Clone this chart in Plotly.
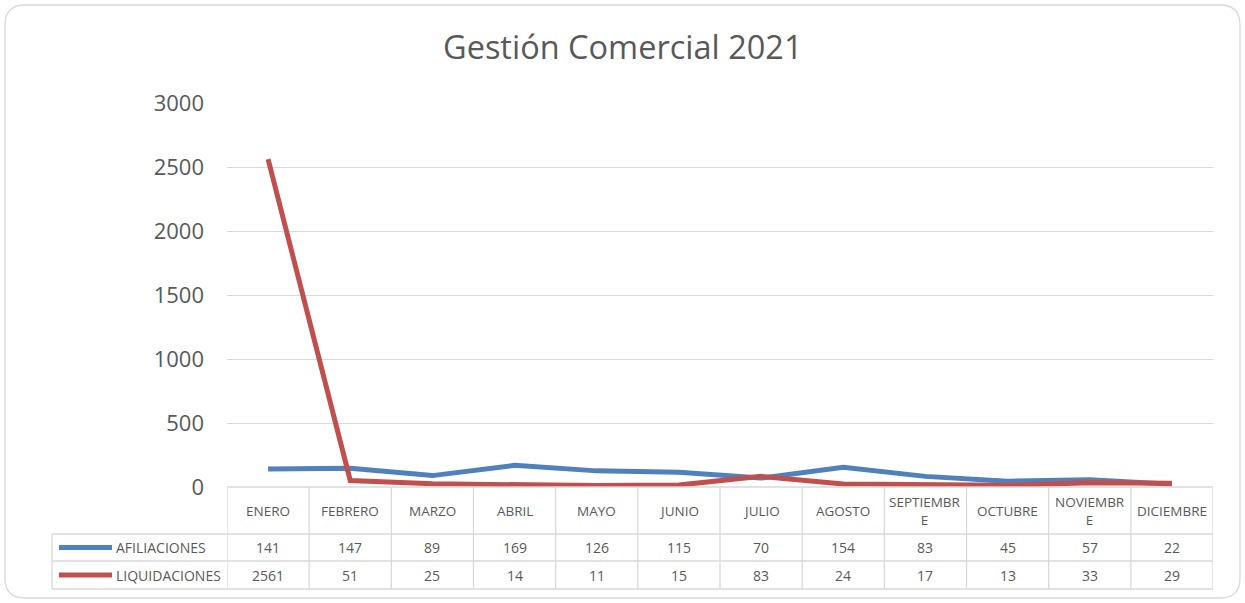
import plotly.graph_objects as go

W, H = 1245, 603

months = ["ENERO", "FEBRERO", "MARZO", "ABRIL", "MAYO", "JUNIO", "JULIO",
          "AGOSTO", "SEPTIEMBRE", "OCTUBRE", "NOVIEMBRE", "DICIEMBRE"]
month_labels = ["ENERO", "FEBRERO", "MARZO", "ABRIL", "MAYO", "JUNIO", "JULIO",
                "AGOSTO", "SEPTIEMBR<br>E", "OCTUBRE", "NOVIEMBR<br>E", "DICIEMBRE"]
afiliaciones = [141, 147, 89, 169, 126, 115, 70, 154, 83, 45, 57, 22]
liquidaciones = [2561, 51, 25, 14, 11, 15, 83, 24, 17, 13, 33, 29]
series_names = ["AFILIACIONES", "LIQUIDACIONES"]
series_colors = ["#4f81bd", "#c0504d"]
y_ticks = [0, 500, 1000, 1500, 2000, 2500, 3000]

FONT = "Open Sans"
TXT = "#595959"
GRID = "#d9d9d9"

def px(x):
    return x / W

def py(y):
    return 1 - y / H

x_left, x_right = 227, 1213
y_top, y_zero = 103, 487
row1_y0, row1_y1 = 534, 561
row2_y1 = 589
legend_x0 = 52

xs = list(range(len(months)))

fig = go.Figure()
for name, vals, col in zip(series_names, [afiliaciones, liquidaciones], series_colors):
    fig.add_trace(go.Scatter(x=xs, y=vals, mode="lines", name=name,
                             line=dict(color=col, width=5), showlegend=False,
                             hoverinfo="y+name"))

shapes = []
r = 20
bx0, by0, bx1, by1 = 5, 5, 1240, 598
path = (f"M {px(bx0 + r)} {py(by0)} L {px(bx1 - r)} {py(by0)} "
        f"Q {px(bx1)} {py(by0)} {px(bx1)} {py(by0 + r)} "
        f"L {px(bx1)} {py(by1 - r)} Q {px(bx1)} {py(by1)} {px(bx1 - r)} {py(by1)} "
        f"L {px(bx0 + r)} {py(by1)} Q {px(bx0)} {py(by1)} {px(bx0)} {py(by1 - r)} "
        f"L {px(bx0)} {py(by0 + r)} Q {px(bx0)} {py(by0)} {px(bx0 + r)} {py(by0)} Z")
shapes.append(dict(type="path", xref="paper", yref="paper", path=path,
                   line=dict(color=GRID, width=1.3), layer="below"))

for i in range(len(months) + 1):
    shapes.append(dict(type="line", xref="x", yref="paper", x0=i - 0.5, x1=i - 0.5,
                       y0=py(y_zero), y1=py(row2_y1), line=dict(color=GRID, width=1.3)))
shapes.append(dict(type="line", xref="paper", yref="paper", x0=px(x_left), x1=px(x_right),
                   y0=py(y_zero), y1=py(y_zero), line=dict(color=GRID, width=1.3)))
for yy in [row1_y0, row1_y1, row2_y1]:
    shapes.append(dict(type="line", xref="paper", yref="paper", x0=px(legend_x0), x1=px(x_right),
                       y0=py(yy), y1=py(yy), line=dict(color=GRID, width=1.3)))
shapes.append(dict(type="line", xref="paper", yref="paper", x0=px(legend_x0), x1=px(legend_x0),
                   y0=py(row1_y0), y1=py(row2_y1), line=dict(color=GRID, width=1.3)))

annotations = []
annotations.append(dict(text="Gestión Comercial 2021", xref="paper", yref="paper",
                        x=px(623), y=py(47), showarrow=False, yanchor="middle",
                        font=dict(family=FONT, size=32.5, color=TXT)))
for i, lab in enumerate(month_labels):
    annotations.append(dict(text=lab, xref="x", yref="paper", x=i, y=py(510.5),
                            showarrow=False, yanchor="middle",
                            font=dict(family=FONT, size=13.5, color=TXT)))
for vals, name, col, (ya, yb) in zip([afiliaciones, liquidaciones], series_names, series_colors,
                                     [(row1_y0, row1_y1), (row1_y1, row2_y1)]):
    ym = (ya + yb) / 2
    for i, v in enumerate(vals):
        annotations.append(dict(text=str(v), xref="x", yref="paper", x=i, y=py(ym),
                                showarrow=False, yanchor="middle",
                                font=dict(family=FONT, size=14, color=TXT)))
    shapes.append(dict(type="line", xref="paper", yref="paper", x0=px(59), x1=px(112),
                       y0=py(ym), y1=py(ym), line=dict(color=col, width=5)))
    annotations.append(dict(text=name, xref="paper", yref="paper", x=px(114), y=py(ym),
                            xanchor="left", yanchor="middle", showarrow=False,
                            font=dict(family=FONT, size=14, color=TXT)))

fig.update_layout(
    width=W, height=H, autosize=False,
    margin=dict(l=0, r=0, t=0, b=0, pad=0),
    paper_bgcolor="white", plot_bgcolor="white",
    xaxis=dict(domain=[px(x_left), px(x_right)], range=[-0.5, len(months) - 0.5],
               showticklabels=False, showgrid=False, zeroline=False, ticks="",
               automargin=False),
    yaxis=dict(domain=[py(y_zero), py(y_top)], range=[0, 3000], tickvals=y_ticks,
               showgrid=True, gridcolor=GRID, gridwidth=1.3, zeroline=False,
               tickfont=dict(family=FONT, size=22, color=TXT), ticks="",
               ticklabelstandoff=22, automargin=False),
    shapes=shapes, annotations=annotations,
)

fig.write_html("out.html", config={"responsive": False, "displayModeBar": False},
               post_script="document.body.style.margin='0';document.body.style.overflow='hidden';")
